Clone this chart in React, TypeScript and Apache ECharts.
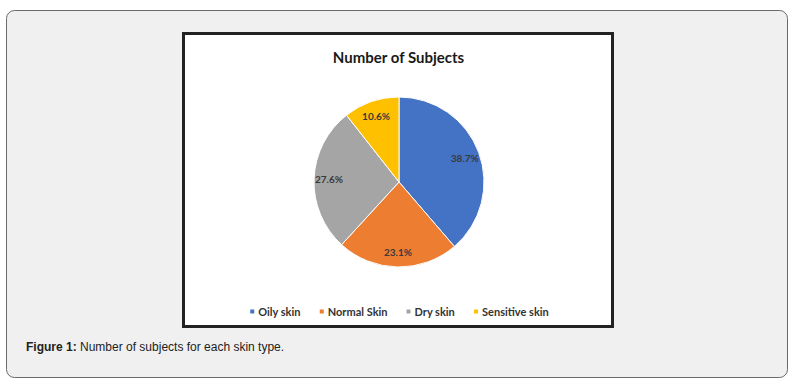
import React, { useEffect, useRef } from "react";
import * as echarts from "echarts";

const categories = ["Oily skin", "Normal Skin", "Dry skin", "Sensitive skin"];
const values = [38.7, 23.1, 27.6, 10.6];
const colors = ["#4472C4", "#ED7D31", "#A5A5A5", "#FFC000"];
const chartTitle = "Number of Subjects";
const captionBold = "Figure 1:";
const captionText = " Number of subjects for each skin type.";

const R = 85;
const CX = 399;
const CY = 182;

export default function App() {
  const ref = useRef<HTMLDivElement>(null);
  useEffect(() => {
    if (!ref.current) return;
    const chart = echarts.init(ref.current, null, { renderer: "svg" });
    const data = categories.map((name, i) => ({
      name,
      value: values[i],
      itemStyle: { color: colors[i] },
    }));
    chart.setOption({
      animation: false,
      backgroundColor: "#ffffff",
      title: {
        text: chartTitle,
        left: "center",
        top: 44,
        textStyle: {
          fontFamily: "Lato",
          fontWeight: "bold",
          fontSize: 15,
          color: "#1a1a1a",
        },
      },
      legend: {
        data: categories,
        left: "center",
        top: 301,
        icon: "rect",
        itemWidth: 6,
        itemHeight: 6,
        itemGap: 17,
        textStyle: {
          fontFamily: "Lato",
          fontWeight: "bold",
          fontSize: 11,
          color: "#333333",
          padding: [0, 0, 0, -2],
        },
        selectedMode: false,
      },
      graphic: [
        {
          type: "rect",
          z: -10,
          shape: { x: 6.5, y: 10.5, width: 781, height: 367, r: 8 },
          style: { fill: "#f0f0f0", stroke: "#6a6a6a", lineWidth: 1 },
          silent: true,
        },
        {
          type: "rect",
          z: -9,
          shape: { x: 183.5, y: 33.5, width: 429, height: 293 },
          style: { fill: "#ffffff", stroke: "#222222", lineWidth: 3 },
          silent: true,
        },
        {
          type: "text",
          z: -8,
          x: 26,
          y: 347,
          style: {
            text: `{b|${captionBold}}${captionText}`,
            fontFamily: "Liberation Sans",
            fontSize: 12,
            fill: "#222222",
            verticalAlign: "middle",
            rich: {
              b: {
                fontFamily: "Liberation Sans",
                fontSize: 12,
                fontWeight: "bold",
                fill: "#222222",
              },
            },
          },
          silent: true,
        },
      ],
      series: [
        {
          type: "pie",
          center: [CX, CY],
          radius: [0, R],
          startAngle: 90,
          clockwise: true,
          data,
          label: { show: false },
          labelLine: { show: false },
          itemStyle: { borderColor: "#ffffff", borderWidth: 1 },
          emphasis: { disabled: true },
          silent: true,
        },
        {
          type: "pie",
          center: [CX, CY],
          radius: [R * 0.58, R],
          startAngle: 90,
          clockwise: true,
          data: categories.map((name, i) => ({ name, value: values[i] })),
          itemStyle: { color: "rgba(0,0,0,0)" },
          label: {
            show: true,
            position: "inside",
            formatter: (p: any) => `${p.value.toFixed(1)}%`,
            fontFamily: "Lato",
            fontWeight: "bold",
            fontSize: 10,
            color: "#3a3a3a",
          },
          labelLine: { show: false },
          emphasis: { disabled: true },
          silent: true,
        },
      ],
    });
    return () => chart.dispose();
  }, []);
  return (
    <div
      ref={ref}
      style={{ position: "absolute", left: 0, top: 0, width: 797, height: 383 }}
    />
  );
}
